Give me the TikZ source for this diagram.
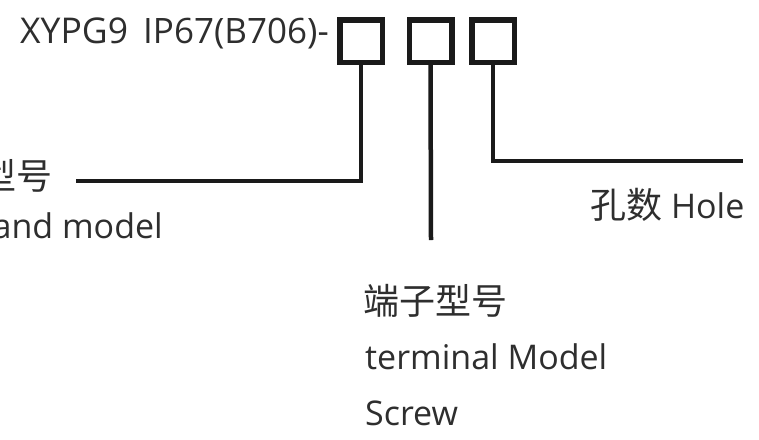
\documentclass[tikz,border=0pt]{standalone}
\usepackage{fontspec}
\setmainfont{Open Sans}
\newfontfamily\cjk{Noto Sans CJK SC}
\definecolor{txt}{HTML}{2E2E2E}
\definecolor{ln}{HTML}{1A1A1A}
\begin{document}
\begin{tikzpicture}[x=1pt,y=-1pt,
  codebox/.style={draw=ln, line width=5.5pt, inner sep=0pt, minimum width=42.5pt, minimum height=42.5pt},
  lead/.style={draw=ln, line width=4.5pt},
  lbl/.style={inner sep=0pt, text=txt, font=\fontsize{34}{40}\selectfont},
  cjklbl/.style={inner sep=0pt, text=txt, font=\cjk\fontsize{36}{40}\selectfont}]
\useasboundingbox (0,0) rectangle (759,439);
\clip (0,0) rectangle (759,439);
\fill[white] (0,0) rectangle (759,439);
% title
\node[lbl, anchor=base west, font=\fontsize{35.5}{44}\selectfont] (t1) at (20,43) {XYPG9};
\node[lbl, anchor=base west, font=\fontsize{35}{44}\selectfont] (t2) at (143,43) {IP67(B706)-};
% boxes
\node[codebox] (b1) at (361,41) {};
\node[codebox] (b2) at (430.5,41) {};
\node[codebox] (b3) at (493,41) {};
% leader ends
\coordinate (e1) at (76,181);
\coordinate (e2) at (431,240);
\coordinate (e3) at (743,161);
\draw[lead] (b1.south) |- (e1);
\draw[lead] (b2.south) -- (e2);
\draw[lead] (b3.south) |- (e3);
% labels
\node[cjklbl, anchor=base east] (l1a) at (53,189) {型号};
\node[lbl, anchor=base east] (l1b) at (163,238) {and model};
\node[anchor=base west, inner sep=0pt, text=txt] (l3) at (590,218) {{\cjk\fontsize{36}{40}\selectfont 孔数}\fontsize{34}{40}\selectfont\ Hole};
\node[cjklbl, anchor=base west] (l2a) at (363,314) {端子型号};
\node[lbl, anchor=base west] (l2b) at (365,369) {terminal Model};
\node[lbl, anchor=base west] (l2c) at (365,425) {Screw};
\end{tikzpicture}
\end{document}
